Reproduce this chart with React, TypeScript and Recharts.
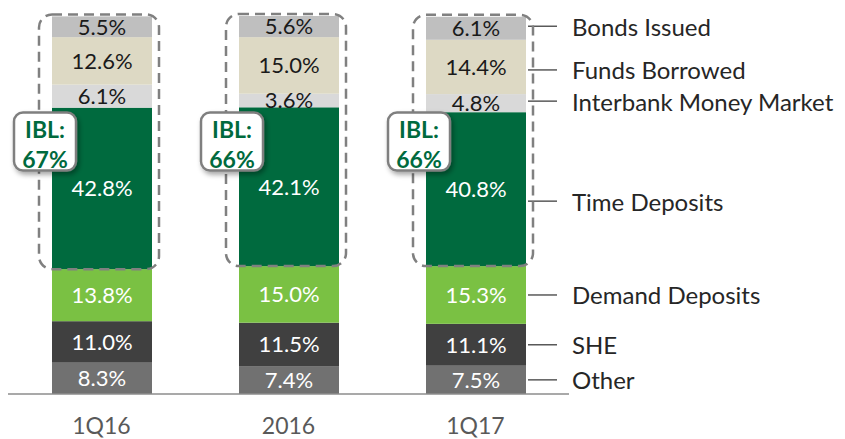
import React from 'react';
import { BarChart, Bar, XAxis, YAxis, LabelList } from 'recharts';

const categories = ['1Q16', '2016', '1Q17'];
const other = [8.3, 7.4, 7.5];
const she = [11.0, 11.5, 11.1];
const demand = [13.8, 15.0, 15.3];
const time = [42.8, 42.1, 40.8];
const interbank = [6.1, 3.6, 4.8];
const funds = [12.6, 15.0, 14.4];
const bonds = [5.5, 5.6, 6.1];
const ibl = [67, 66, 66];

const seriesNames = ['Other', 'SHE', 'Demand Deposits', 'Time Deposits', 'Interbank Money Market', 'Funds Borrowed', 'Bonds Issued'];

const data = categories.map((c, i) => ({
  cat: c,
  other: other[i],
  she: she[i],
  demand: demand[i],
  time: time[i],
  interbank: interbank[i],
  funds: funds[i],
  bonds: bonds[i],
  ibl: ibl[i],
}));

const FONT = 'Lato, "Open Sans", sans-serif';

const series = [
  { key: 'other', color: '#717171', text: '#ffffff', name: seriesNames[0], dy: 0 },
  { key: 'she', color: '#404040', text: '#ffffff', name: seriesNames[1], dy: 0 },
  { key: 'demand', color: '#7AC143', text: '#ffffff', name: seriesNames[2], dy: 0 },
  { key: 'time', color: '#006A3E', text: '#ffffff', name: seriesNames[3], dy: 12 },
  { key: 'interbank', color: '#D9D9D9', text: '#1a1a1a', name: seriesNames[4], dy: -2 },
  { key: 'funds', color: '#DDD9C4', text: '#1a1a1a', name: seriesNames[5], dy: 3 },
  { key: 'bonds', color: '#BFBFBF', text: '#1a1a1a', name: seriesNames[6], dy: -2 },
];

function makeShape(s: any) {
  return (props: any) => {
    const { x, y, width, height, index, payload } = props;
    const isLast = index === categories.length - 1;
    const cy = y + height / 2 + s.dy;
    let overlay = null;
    if (s.key === 'bonds' && payload) {
      const ppu = height / payload.bonds;
      const timeBottom = y + height + (payload.funds + payload.interbank + payload.time) * ppu;
      const base = timeBottom + (payload.demand + payload.she + payload.other) * ppu;
      const boxTop = base - 74.6 * ppu;
      const bx = x - 38;
      const bw = 62;
      const bh = 58;
      overlay = (
        <g>
          <rect x={x - 13} y={y - 2} width={width + 20} height={timeBottom - y + 2} rx={13} ry={13}
            fill="none" stroke="#808080" strokeWidth={2.5} strokeDasharray="10 6" />
          <rect x={bx} y={boxTop} width={bw} height={bh} rx={9} ry={9} fill="#ffffff"
            stroke="#7F7F7F" strokeWidth={2.5} filter="url(#iblShadow)" />
          <text x={bx + bw / 2} y={boxTop + 16} textAnchor="middle" dominantBaseline="central"
            fontFamily={FONT} fontWeight={700} fontSize={23} fill="#006A3E">IBL:</text>
          <text x={bx + bw / 2} y={boxTop + 46} textAnchor="middle" dominantBaseline="central"
            fontFamily={FONT} fontWeight={700} fontSize={23} fill="#006A3E">{payload.ibl}%</text>
        </g>
      );
    }
    return (
      <g>
        <rect x={x} y={y} width={width} height={height} fill={s.color} />
        {isLast && (
          <g>
            <line x1={x + width + 2} x2={x + width + 31} y1={cy} y2={cy} stroke="#595959" strokeWidth={1.5} />
            <text x={x + width + 46} y={cy} dominantBaseline="central" fontFamily={FONT} fontSize={24} fill="#262626">
              {s.name}
            </text>
          </g>
        )}
        {overlay}
      </g>
    );
  };
}

export default function App() {
  return (
    <BarChart width={837} height={431} data={data} margin={{ top: 8, right: 276, left: 0, bottom: 0 }} barSize={100}>
      <defs>
        <filter id="iblShadow" x="-30%" y="-30%" width="160%" height="160%">
          <feDropShadow dx={2} dy={3} stdDeviation={2.5} floodColor="#000000" floodOpacity={0.35} />
        </filter>
      </defs>
      <XAxis dataKey="cat" tickLine={false} axisLine={{ stroke: '#8C8C8C', strokeWidth: 1.5 }} height={45}
        tickMargin={18} tick={{ fontFamily: FONT, fontSize: 23, fill: '#595959' }} />
      <YAxis hide domain={[0, 100.2]} />
      {series.map((s) => (
        <Bar key={s.key} dataKey={s.key} stackId="a" fill={s.color} isAnimationActive={false} shape={makeShape(s)}>
          <LabelList dataKey={s.key} position="center" formatter={(v: any) => `${Number(v).toFixed(1)}%`}
            style={{ fontFamily: FONT, fontSize: 22, fill: s.text }} fill={s.text} />
        </Bar>
      ))}
    </BarChart>
  );
}
